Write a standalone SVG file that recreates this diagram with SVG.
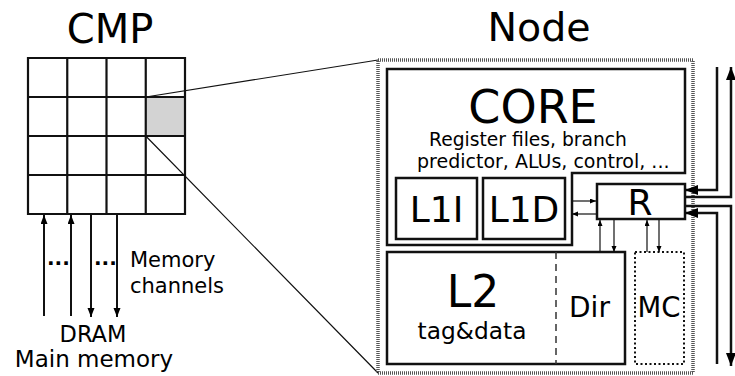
<svg xmlns="http://www.w3.org/2000/svg" width="735" height="376" viewBox="0 0 735 376">
  <style>
    text { font-family: "DejaVu Sans", "Liberation Sans", sans-serif; fill: #000; }
    .box { fill: #fff; stroke: #111; stroke-width: 2.5; }
    .grid { fill: none; stroke: #111; stroke-width: 2.2; }
    .thin { fill: none; stroke: #111; stroke-width: 1.2; }
    .wire { fill: none; stroke: #111; stroke-width: 2.5; }
    .chan { fill: none; stroke: #111; stroke-width: 2; }
  </style>
  <defs>
    <marker id="big" markerUnits="userSpaceOnUse" markerWidth="14" markerHeight="11" refX="13" refY="5" orient="auto">
      <path d="M0,0 L13,5 L0,10 Z" fill="#000"/>
    </marker>
    <marker id="mid" markerUnits="userSpaceOnUse" markerWidth="10" markerHeight="8" refX="9" refY="3.5" orient="auto">
      <path d="M0,0 L9,3.5 L0,7 Z" fill="#000"/>
    </marker>
    <marker id="small" markerUnits="userSpaceOnUse" markerWidth="7" markerHeight="6" refX="6" refY="2.5" orient="auto">
      <path d="M0,0 L6,2.5 L0,5 Z" fill="#000"/>
    </marker>
  </defs>

  <!-- chip multiprocessor tile grid -->
  <g id="cmp">
    <text x="110" y="43" font-size="40" text-anchor="middle">CMP</text>
    <rect x="28" y="58" width="157" height="156" fill="#fff"/>
    <rect x="145.75" y="97" width="39.25" height="39" fill="#d3d3d3"/>
    <path class="grid" d="M28,58 H185 V214 H28 Z M67.25,58 V214 M106.5,58 V214 M145.75,58 V214 M28,97 H185 M28,136 H185 M28,175 H185"/>
  </g>

  <!-- zoom lines from the highlighted tile to the node -->
  <g id="zoom-lines">
    <path class="thin" d="M145.75,97 L378,60 M145.75,136 L378,373"/>
  </g>

  <!-- memory channels and DRAM -->
  <g id="memory">
    <text x="47" y="265" font-size="20" font-weight="bold">...</text>
    <text x="94" y="265" font-size="20" font-weight="bold">...</text>
    <text x="130" y="267" font-size="21">Memory</text>
    <text x="130" y="293" font-size="21">channels</text>
    <text x="93" y="342" font-size="22.5" text-anchor="middle">DRAM</text>
    <text x="94" y="367" font-size="23" text-anchor="middle">Main memory</text>
  </g>

  <!-- node detail -->
  <g id="node">
    <text x="539" y="41" font-size="39.5" text-anchor="middle">Node</text>
    <rect x="378" y="60" width="315" height="313" fill="#fff" stroke="#555" stroke-width="3.5" stroke-dasharray="1 1"/>
  </g>

  <g id="core">
    <path class="box" d="M387,69 H685 V173 H572 V245 H387 Z"/>
    <text x="533" y="123" font-size="46" text-anchor="middle">CORE</text>
    <text x="429" y="146" font-size="18.7">Register files, branch</text>
    <text x="417" y="168" font-size="19">predictor, ALUs, control, ...</text>
  </g>

  <g id="l1i">
    <rect class="box" x="396" y="178" width="81" height="61"/>
    <text x="436.5" y="222" font-size="36" text-anchor="middle">L1I</text>
  </g>

  <g id="l1d">
    <rect class="box" x="483" y="178" width="82" height="61"/>
    <text x="524" y="222" font-size="36" text-anchor="middle">L1D</text>
  </g>

  <g id="router">
    <rect class="box" x="597" y="184" width="88" height="35"/>
    <text x="640" y="215" font-size="36" text-anchor="middle">R</text>
  </g>

  <g id="l2">
    <rect class="box" x="387" y="252" width="238" height="112"/>
    <path d="M556,252 V364" fill="none" stroke="#333" stroke-width="1.5" stroke-dasharray="7 5"/>
    <text x="473" y="307" font-size="44" text-anchor="middle">L2</text>
    <text x="472" y="339" font-size="23.3" text-anchor="middle">tag&amp;data</text>
    <text x="589.5" y="317" font-size="28" text-anchor="middle">Dir</text>
  </g>

  <g id="mc">
    <rect x="635" y="252" width="49" height="112" fill="none" stroke="#111" stroke-width="2" stroke-dasharray="2 2.5"/>
    <text x="659" y="317" font-size="27.5" text-anchor="middle">MC</text>
  </g>

  <!-- connectors -->
  <g id="connectors">
    <!-- memory channels -->
    <path class="chan" d="M44,316 V215" marker-end="url(#mid)"/>
    <path class="chan" d="M71,316 V215" marker-end="url(#mid)"/>
    <path class="chan" d="M91,215 V317" marker-end="url(#mid)"/>
    <path class="chan" d="M117,215 V317" marker-end="url(#mid)"/>
    <!-- L1D to router -->
    <path class="thin" d="M572,201 H596" stroke="#444" marker-end="url(#small)"/>
    <path class="thin" d="M596,214 H572" marker-end="url(#small)"/>
    <!-- router to L2 / Dir and MC -->
    <path class="thin" d="M600,252 V220" marker-end="url(#small)"/>
    <path class="thin" d="M614,220 V252" marker-end="url(#small)"/>
    <path class="thin" d="M647,252 V220" marker-end="url(#small)"/>
    <path class="thin" d="M659,220 V252" marker-end="url(#small)"/>
    <!-- network links -->
    <path class="wire" d="M717,67 V190 H685" marker-end="url(#big)"/>
    <path class="wire" d="M685,197 H731 V67" marker-end="url(#big)"/>
    <path class="wire" d="M685,206 H731 V366" marker-end="url(#big)"/>
    <path class="wire" d="M717,364 V213 H685" marker-end="url(#big)"/>
  </g>
</svg>
